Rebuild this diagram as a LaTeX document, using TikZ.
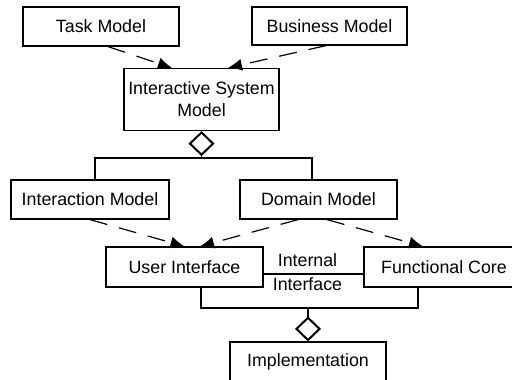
\documentclass[tikz,border=0pt]{standalone}
\usepackage{fontspec}
\setmainfont{Liberation Sans}
\usetikzlibrary{arrows.meta}
\begin{document}
\begin{tikzpicture}[x=1pt,y=-1pt,
  box/.style={draw,line width=1.2pt,inner sep=0pt,font=\fontsize{17.8}{22}\selectfont,align=center},
  dep/.style={line width=1.2pt,dash pattern=on 18pt off 12pt,-{Latex[length=14pt,width=12pt]}},
  agg/.style={line width=1.2pt,-{Diamond[open,length=25pt,width=26pt,line width=2pt]}},
  conn/.style={line width=1.2pt}]
\clip (0,0) rectangle (512,380);
\useasboundingbox (0,0) rectangle (512,380);
\node[box,minimum width=156pt,minimum height=39pt] (tm) at (101,26.5) {Task Model};
\node[box,minimum width=155pt,minimum height=38pt] (bm) at (329.5,26) {Business Model};
\node[box,minimum width=155pt,minimum height=62pt] (ism) at (201.5,99.5) {Interactive System\\Model};
\node[box,minimum width=158pt,minimum height=39pt] (ia) at (90,199.5) {Interaction Model};
\node[box,minimum width=157pt,minimum height=39pt] (dm) at (318.5,199.5) {Domain Model};
\node[box,minimum width=157pt,minimum height=40pt] (ui) at (184.5,267) {User Interface};
\node[box,minimum width=160pt,minimum height=40pt] (fc) at (444,267) {Functional Core};
\node[box,minimum width=156pt,minimum height=40pt] (impl) at (308,362) {Implementation};
\coordinate (j1) at (201.5,158);
\coordinate (j2) at (308,308);
% dependencies
\draw[dep] ([xshift=7pt]tm.south) -- ([xshift=-29.5pt]ism.north);
\draw[dep] ([xshift=-3.5pt]bm.south) -- ([xshift=26.5pt]ism.north);
\draw[dep] (ia.south) -- (ui.north);
\draw[dep] ([xshift=-20.5pt]dm.south) -- ([xshift=15.5pt]ui.north);
\draw[dep] ([xshift=8.5pt]dm.south) -- ([xshift=-21pt]fc.north);
% aggregation top
\draw[agg] (j1) -- (ism.south);
\draw[conn] ([xshift=5pt]ia.north) |- (j1) -| ([xshift=-6.5pt]dm.north);
% internal interface
\draw[conn] ([yshift=-7pt]ui.east) -- node[font=\fontsize{17.8}{24}\selectfont,align=center,xshift=-6pt,yshift=2pt] (ii) {Internal\\Interface} ([yshift=-7pt]fc.west);
% aggregation bottom
\draw[conn] ([xshift=16.5pt]ui.south) |- (j2) -| ([xshift=-26pt]fc.south);
\draw[agg] (j2) -- (impl.north);
\end{tikzpicture}
\end{document}
